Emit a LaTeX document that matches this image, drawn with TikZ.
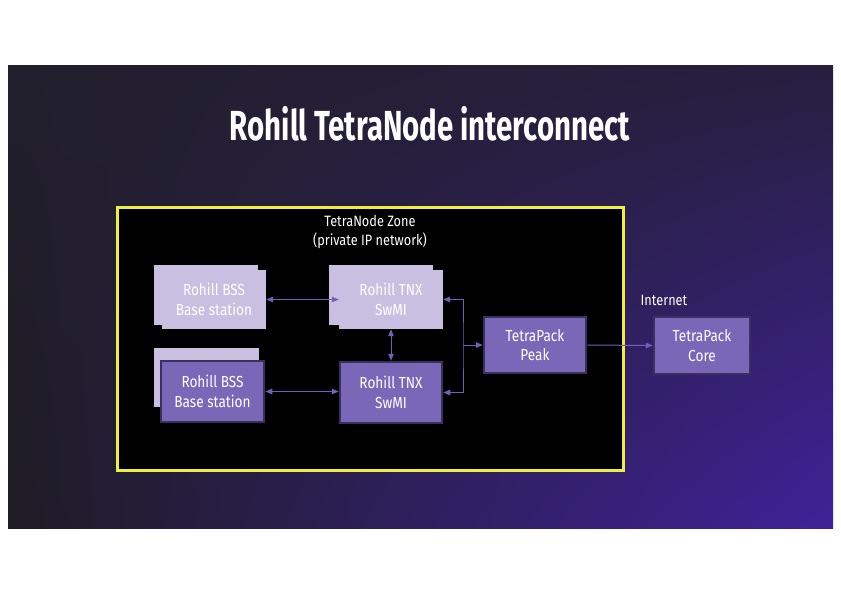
\documentclass[tikz,border=0pt]{standalone}
\usepackage{fontspec}
\setmainfont{Fira Sans}[FakeStretch=0.85]
\newfontfamily\titlefont{Fira Sans}[FakeStretch=0.70]
\usetikzlibrary{arrows.meta,shadings}
\definecolor{bgUL}{HTML}{221F2D}
\definecolor{bgUR}{HTML}{271F3E}
\definecolor{bgLL}{HTML}{1E1C24}
\definecolor{bgLR}{HTML}{40229A}
\definecolor{zoneyel}{HTML}{EEEE3C}
\definecolor{lightbox}{HTML}{C8BFE1}
\definecolor{darkbox}{HTML}{7A67B8}
\definecolor{darkedge}{HTML}{3A2F5E}
\definecolor{linkcol}{HTML}{7060B8}
\tikzset{
  lightnode/.style={fill=lightbox, draw=none, minimum width=104pt, minimum height=59pt, inner sep=0pt, text=white, align=center, font=\fontsize{16}{19.5}\selectfont},
  shadowlight/.style={fill=lightbox, draw=none},
  darknode/.style={fill=darkbox, draw=darkedge, line width=2.5pt, inner sep=0pt, text=white, align=center, font=\fontsize{16}{19.5}\selectfont},
  link/.style={draw=linkcol, line width=1pt, -{Triangle[length=7pt,width=5.5pt]}},
  dlink/.style={draw=linkcol, line width=1pt, {Triangle[length=7pt,width=5.5pt]}-{Triangle[length=7pt,width=5.5pt]}},
  plainlabel/.style={text=white, align=center, font=\fontsize{15}{19}\selectfont},
}
\begin{document}
\begin{tikzpicture}[x=1pt, y=-1pt]
\useasboundingbox (0,0) rectangle (841,595);
\fill[white] (0,0) rectangle (841,595);
% slide background
\shade[upper left=bgUL, upper right=bgUR, lower left=bgLL, lower right=bgLR] (8,65) rectangle (833,528);
% title
\node[text=white, font=\titlefont\bfseries\fontsize{42}{46}\selectfont] (title) at (430,124) {Rohill TetraNode interconnect};
% zone
\draw[draw=zoneyel, fill=black, line width=3pt] (117,207) rectangle (623,470);
\node[plainlabel] (zone) at (370,232) {TetraNode Zone\\(private IP network)};
% top BSS
\fill[shadowlight] (154,265) rectangle (258,325);
\node[lightnode] (bss1) at (214,299.5) {Rohill BSS\\Base station};
% top TNX
\fill[shadowlight] (329,265) rectangle (433,325);
\node[lightnode] (tnx1) at (391,299.5) {Rohill TNX\\SwMI};
% bottom BSS
\fill[shadowlight] (154,348) rectangle (259,407);
\node[darknode, minimum width=103pt, minimum height=61pt] (bss2) at (212.5,391.5) {Rohill BSS\\Base station};
% bottom TNX
\node[darknode, minimum width=102pt, minimum height=61pt] (tnx2) at (391,392.5) {Rohill TNX\\SwMI};
% peak and core
\node[darknode, minimum width=102pt, minimum height=56pt] (peak) at (535,345) {TetraPack\\Peak};
\node[darknode, minimum width=96pt, minimum height=57pt] (core) at (702,345.5) {TetraPack\\Core};
\node[plainlabel] (inet) at (664,300) {Internet};
% connectors
\coordinate (bus) at (463,345);
\draw[dlink] (bss1.east) -- (tnx1.west);
\draw[dlink] (bss2.east) -- (bss2.east -| tnx2.west);
\draw[dlink] (tnx1.south) -- (tnx2.north);
\draw[dlink] (tnx1.east) -| (bus) |- (tnx2.east);
\draw[link] (bus) -- (peak.west);
\draw[link] (peak.east) -- (core.west);
\end{tikzpicture}
\end{document}
